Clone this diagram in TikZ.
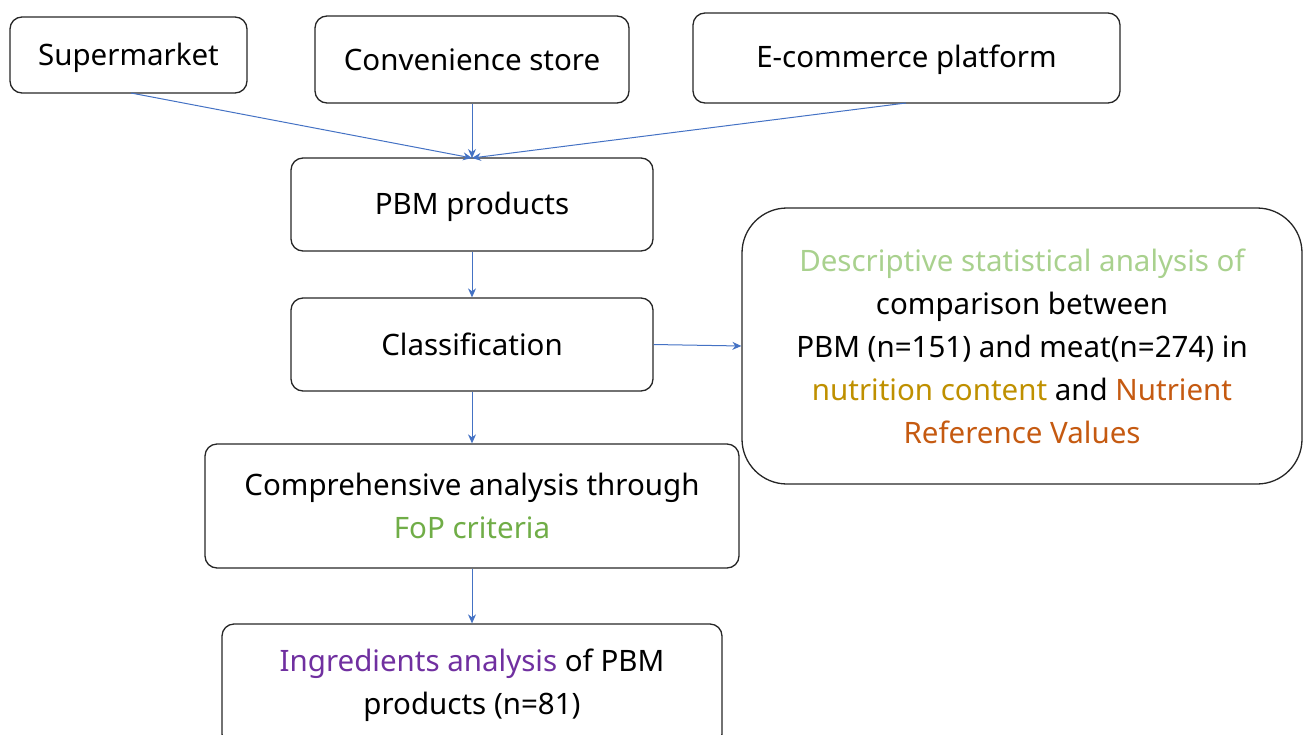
\documentclass[tikz,border=0pt]{standalone}
\usepackage{fontspec}
\setmainfont{Noto Sans}
\usetikzlibrary{arrows.meta}
\definecolor{arr}{HTML}{4472C4}
\definecolor{lgreen}{HTML}{A9D18E}
\definecolor{fgreen}{HTML}{70AD47}
\definecolor{gold}{HTML}{BF9000}
\definecolor{orng}{HTML}{C55A11}
\definecolor{purp}{HTML}{7030A0}
\newcommand{\lowr}[2]{\raisebox{-#1}[\height][\depth]{#2}}
\tikzset{
  box/.style={draw=black!85, line width=1.3pt, rounded corners=12pt, align=center, inner sep=0pt, font=\fontsize{29.5}{43}\selectfont},
  flow/.style={draw=arr, line width=1pt, -{Stealth[length=9pt,width=8pt]}}
}
\begin{document}
\begin{tikzpicture}[x=1pt,y=-1pt]
\useasboundingbox (0,0) rectangle (1303,734);
\node[box, minimum width=237pt, minimum height=76pt] (sup) at (128.5,55) {\lowr{3pt}{Supermarket}};
\node[box, minimum width=314pt, minimum height=87pt] (conv) at (472,59.5) {Convenience store};
\node[box, minimum width=427pt, minimum height=90pt] (ecom) at (906.5,58) {\lowr{2pt}{E-commerce platform}};
\node[box, minimum width=362pt, minimum height=93pt] (pbm) at (472,204.5) {\lowr{2pt}{PBM products}};
\node[box, minimum width=362pt, minimum height=93pt] (cls) at (472,344.5) {Classification};
\node[box, rounded corners=45pt, minimum width=560pt, minimum height=276pt] (desc) at (1022,346) {\textcolor{lgreen}{Descriptive statistical analysis of}\\comparison between\\PBM (n=151) and meat(n=274) in\\\textcolor{gold}{nutrition content} and \textcolor{orng}{Nutrient}\\\textcolor{orng}{Reference Values}};
\node[box, minimum width=534pt, minimum height=124pt] (comp) at (472,506) {Comprehensive analysis through\\\textcolor{fgreen}{FoP criteria}};
\node[box, minimum width=500pt, minimum height=122pt] (ingr) at (472,685) {\textcolor{purp}{Ingredients analysis} of PBM\\products (n=81)};
\coordinate (t) at (472,158);
\draw[flow] (131,93) -- (t);
\draw[flow] (conv.south) -- (t);
\draw[flow] (906,103) -- (t);
\draw[flow] (pbm) -- (cls);
\draw[flow] (cls.east) -- (desc.west);
\draw[flow] (cls) -- (comp);
\draw[flow] (comp) -- (ingr);
\end{tikzpicture}
\end{document}
